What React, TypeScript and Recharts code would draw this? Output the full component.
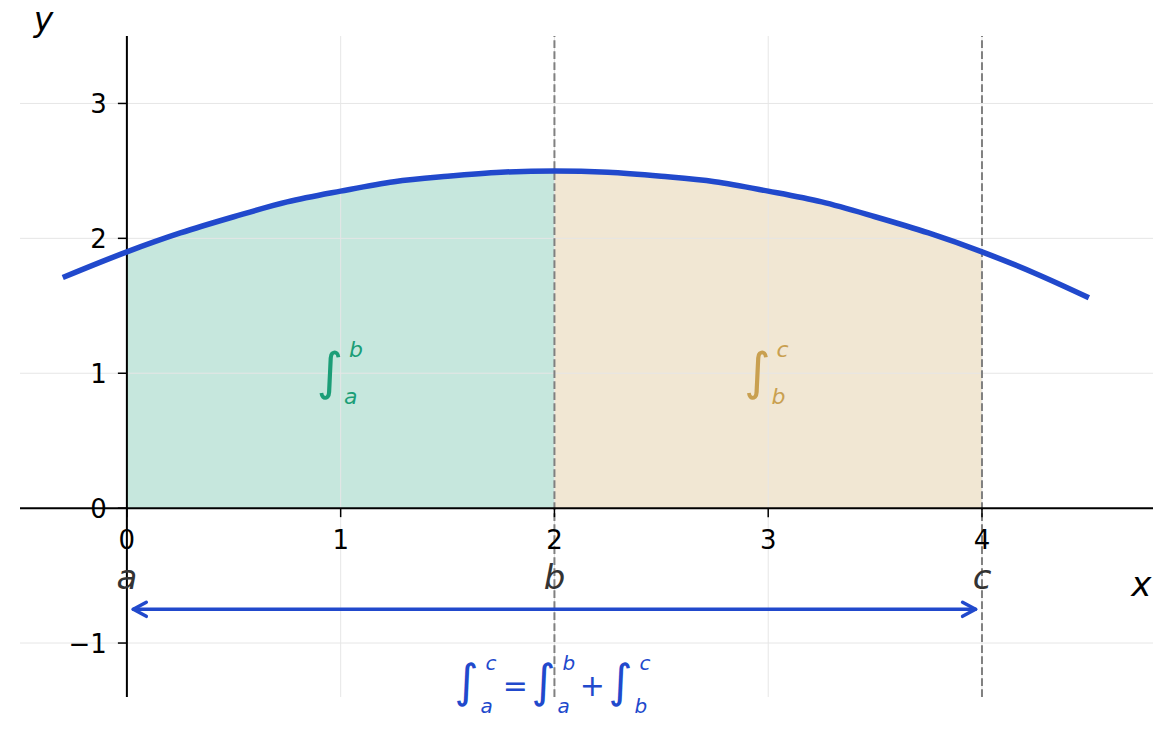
import React from "react";
import {
  ComposedChart,
  Line,
  Area,
  XAxis,
  YAxis,
  ReferenceLine,
  ReferenceDot,
} from "recharts";

// curve samples
const xValues = [-0.3, 0, 0.25, 0.5, 0.75, 1, 1.25, 1.5, 1.75, 2, 2.25, 2.5, 2.75, 3, 3.25, 3.5, 3.75, 4, 4.25, 4.5];
const curveValues = [1.71, 1.9, 2.04, 2.16, 2.27, 2.35, 2.42, 2.46, 2.49, 2.5, 2.49, 2.46, 2.42, 2.35, 2.27, 2.16, 2.04, 1.9, 1.74, 1.56];

const xTicks = [0, 1, 2, 3, 4];
const yTicks = [-1, 0, 1, 2, 3];
const gridX = [1, 2, 3, 4];
const gridY = [-1, 1, 2, 3];
const boundaryX = [0, 2, 4];
const boundaryNames = ["a", "b", "c"];
const arrowFrom = 0.03;
const arrowTo = 3.97;
const arrowY = -0.75;

const BLUE = "#2149cc";
const GREEN = "#1b9e77";
const TAN = "#c9a050";
const FONT = "DejaVu Sans";

const data = xValues.map((x, i) => ({
  x,
  y: curveValues[i],
  left: x >= 0 && x <= 2 ? curveValues[i] : null,
  right: x >= 2 && x <= 4 ? curveValues[i] : null,
}));

// integral sign with limits, cx/cy is the centre of the sign
const Integral = ({ cx, cy, upper, lower, color, size, small, supDy, subDy }: any) => (
  <g fill={color} fontFamily={FONT}>
    <text x={cx} y={cy + size * 0.3} fontSize={size} textAnchor="middle">
      ∫
    </text>
    <text x={cx + 19} y={cy + supDy} fontSize={small} fontStyle="italic">
      {upper}
    </text>
    <text x={cx + 14} y={cy + subDy} fontSize={small} fontStyle="italic">
      {lower}
    </text>
  </g>
);

const xTickShape = (t: number) => (p: any) => (
  <g>
    <line x1={p.cx} y1={p.cy} x2={p.cx} y2={p.cy + 9} stroke="#000" strokeWidth={1.5} />
    <text x={p.cx} y={p.cy + 41} textAnchor="middle" fontSize={26} fontFamily={FONT} fill="#000">
      {t}
    </text>
  </g>
);

const yTickShape = (t: number) => (p: any) => (
  <g>
    <line x1={p.cx - 9} y1={p.cy} x2={p.cx} y2={p.cy} stroke="#000" strokeWidth={1.5} />
    <text x={p.cx - 20} y={p.cy + 10} textAnchor="end" fontSize={26} fontFamily={FONT} fill="#000">
      {t < 0 ? `\u2212${-t}` : t}
    </text>
  </g>
);

const textShape = (label: string, color: string, size = 34) => (p: any) => (
  <text x={p.cx} y={p.cy} textAnchor="middle" fontSize={size} fontStyle="italic" fontFamily={FONT} fill={color}>
    {label}
  </text>
);

const arrowShape = (p: any) => {
  const { x1, y1, x2 } = p;
  const h = 13;
  const w = 7;
  return (
    <g stroke={BLUE} strokeWidth={3.5} fill="none" strokeLinecap="round" strokeLinejoin="round">
      <line x1={x1} y1={y1} x2={x2} y2={y1} />
      <polyline points={`${x1 + h},${y1 - w} ${x1},${y1} ${x1 + h},${y1 + w}`} />
      <polyline points={`${x2 - h},${y1 - w} ${x2},${y1} ${x2 - h},${y1 + w}`} />
    </g>
  );
};

const formulaShape = (p: any) => {
  const { cx, cy } = p;
  const common = { color: BLUE, size: 46, small: 20, supDy: -14, subDy: 29 };
  return (
    <g>
      <Integral cx={cx - 88} cy={cy} upper="c" lower="a" {...common} />
      <text x={cx - 39} y={cy + 12} textAnchor="middle" fontSize={30} fontFamily={FONT} fill={BLUE}>=</text>
      <Integral cx={cx - 11} cy={cy} upper="b" lower="a" {...common} />
      <text x={cx + 38} y={cy + 12} textAnchor="middle" fontSize={30} fontFamily={FONT} fill={BLUE}>+</text>
      <Integral cx={cx + 66} cy={cy} upper="c" lower="b" {...common} />
    </g>
  );
};

export default function App() {
  return (
    <div style={{ position: "absolute", left: 0, top: 0, width: 1173, height: 734, background: "#fff" }}>
      <ComposedChart
        width={1173}
        height={734}
        data={data}
        margin={{ top: 36, right: 20, bottom: 37, left: 20 }}
      >
        <XAxis dataKey="x" type="number" domain={[-0.5, 4.8]} allowDataOverflow hide />
        <YAxis type="number" domain={[-1.4, 3.5]} allowDataOverflow hide />

        {gridX.map((g) => (
          <ReferenceLine key={`gx${g}`} x={g} stroke="#e6e6e6" strokeWidth={1} />
        ))}
        {gridY.map((g) => (
          <ReferenceLine key={`gy${g}`} y={g} stroke="#e6e6e6" strokeWidth={1} />
        ))}

        <Area
          dataKey="left"
          type="monotone"
          baseValue={0}
          stroke="none"
          fill={GREEN}
          fillOpacity={0.25}
          isAnimationActive={false}
        />
        <Area
          dataKey="right"
          type="monotone"
          baseValue={0}
          stroke="none"
          fill={TAN}
          fillOpacity={0.25}
          isAnimationActive={false}
        />

        <ReferenceLine x={2} stroke="#808080" strokeWidth={2} strokeDasharray="7.7 3.3" />
        <ReferenceLine x={4} stroke="#808080" strokeWidth={2} strokeDasharray="7.7 3.3" />
        <ReferenceLine x={0} stroke="#000" strokeWidth={2} />
        <ReferenceLine y={0} stroke="#000" strokeWidth={2} />

        <Line
          dataKey="y"
          type="monotone"
          stroke={BLUE}
          strokeWidth={5.5}
          dot={false}
          isAnimationActive={false}
        />

        {xTicks.map((t) => (
          <ReferenceDot key={`xt${t}`} x={t} y={0} r={0} shape={xTickShape(t)} />
        ))}
        {yTicks.map((t) => (
          <ReferenceDot key={`yt${t}`} x={0} y={t} r={0} shape={yTickShape(t)} />
        ))}
        {boundaryX.map((b, i) => (
          <ReferenceDot key={`bn${b}`} x={b} y={-0.6} r={0} shape={textShape(boundaryNames[i], "#333")} />
        ))}

        <ReferenceLine
          segment={[{ x: arrowFrom, y: arrowY }, { x: arrowTo, y: arrowY }]}
          shape={arrowShape}
        />

        <ReferenceDot
          x={0.95}
          y={1}
          r={0}
          shape={(p: any) => (
            <Integral cx={p.cx} cy={p.cy} upper="b" lower="a" color={GREEN} size={51} small={22} supDy={-16} subDy={31} />
          )}
        />
        <ReferenceDot
          x={2.95}
          y={1}
          r={0}
          shape={(p: any) => (
            <Integral cx={p.cx} cy={p.cy} upper="c" lower="b" color={TAN} size={51} small={22} supDy={-16} subDy={31} />
          )}
        />
        <ReferenceDot x={2} y={-1.3} r={0} ifOverflow="visible" shape={formulaShape} />

        <ReferenceDot x={4.745} y={-0.65} r={0} ifOverflow="visible" shape={textShape("x", "#000")} />
        <ReferenceDot x={-0.39} y={3.54} r={0} ifOverflow="visible" shape={textShape("y", "#000", 33)} />
      </ComposedChart>
    </div>
  );
}
